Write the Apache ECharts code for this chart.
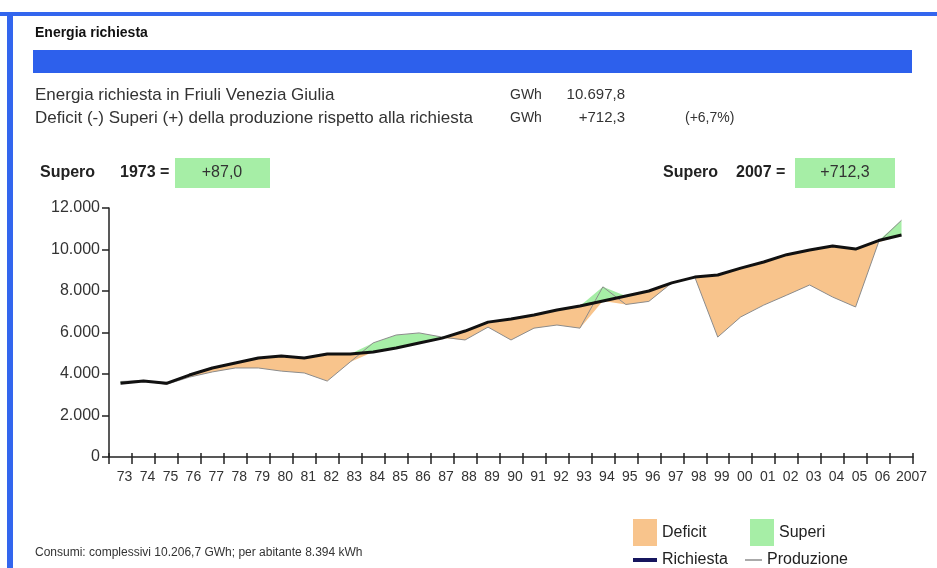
<!DOCTYPE html>
<html>
<head>
<meta charset="utf-8">
<script src="https://cdn.jsdelivr.net/npm/echarts@6/dist/echarts.min.js"></script>
<style>
    html, body { margin: 0; padding: 0; background: #fff; }
    #main { width: 937px; height: 568px; }
</style>
</head>
<body>
<div id="main"></div>
<script>
    // anni (asse x)
    var anni = ['73','74','75','76','77','78','79','80','81','82','83','84','85','86','87','88','89','90',
                '91','92','93','94','95','96','97','98','99','00','01','02','03','04','05','06','2007'];
    // GWh richiesti
    var richiesta = [3550,3660,3550,3950,4290,4530,4770,4870,4770,4960,4960,5060,5250,5490,5730,6070,6500,6650,
                     6840,7080,7280,7520,7760,8000,8390,8670,8770,9100,9400,9750,9980,10170,10020,10430,10698];
    // GWh prodotti
    var produzione = [3640,3680,3500,3850,4100,4290,4290,4140,4050,3660,4580,5500,5880,5980,5780,5640,6260,5640,
                      6210,6360,6210,8200,7350,7500,8390,8670,5780,6750,7320,7800,8290,7710,7230,10350,11410];
    var yTicks = [0, 2000, 4000, 6000, 8000, 10000, 12000];

    var FONT = "'Liberation Sans', Arial, sans-serif";
    var ORANGE = '#f8c48c', GREEN = '#a6eea6';

    var base = [], deficit = [], superi = [];
    for (var i = 0; i < anni.length; i++) {
        base.push(Math.min(richiesta[i], produzione[i]));
        deficit.push(Math.max(richiesta[i] - produzione[i], 0));
        superi.push(Math.max(produzione[i] - richiesta[i], 0));
    }

    function txt(x, y, s, opt) {
        opt = opt || {};
        return {
            type: 'text', x: x, y: y, z: 10,
            style: {
                text: s, fill: opt.color || '#222', font: (opt.weight || 'normal') + ' ' + (opt.size || 16) + 'px ' + FONT,
                align: opt.align || 'left', verticalAlign: 'middle'
            }
        };
    }
    function box(x, y, w, h, color) {
        return { type: 'rect', shape: { x: x, y: y, width: w, height: h }, style: { fill: color }, z: 5 };
    }

    var chart = echarts.init(document.getElementById('main'));
    var option = {
        backgroundColor: '#fff',
        animation: false,
        grid: { left: 109, right: 24, top: 208, bottom: 111 },
        xAxis: [{
            type: 'category', data: anni, boundaryGap: true,
            axisLine: { lineStyle: { color: '#222', width: 1.5 } },
            axisTick: { show: true, interval: 0, length: 7, lineStyle: { color: '#222', width: 1.5 } },
            axisLabel: {
                interval: 0, margin: 13, color: '#333', fontSize: 14, fontFamily: FONT,
                padding: [0, 0, 0, 8],
                formatter: function (v) { return v === '2007' ? '{l|' + v + '}' : v; },
                rich: { l: { fontSize: 14, fontFamily: FONT, color: '#333', padding: [0, 0, 0, 12] } }
            }
        }, {
            type: 'category', data: anni, boundaryGap: true, position: 'bottom',
            axisLine: { show: false },
            axisTick: { show: true, inside: true, interval: 0, length: 4, lineStyle: { color: '#222', width: 1.5 } },
            axisLabel: { show: false }
        }],
        yAxis: {
            type: 'value', min: yTicks[0], max: yTicks[yTicks.length - 1], interval: 2000,
            splitLine: { show: false },
            axisLine: { show: true, lineStyle: { color: '#222', width: 1.5 } },
            axisTick: { show: true, length: 7, lineStyle: { color: '#222', width: 1.5 } },
            axisLabel: {
                margin: 9, color: '#333', fontSize: 16, fontFamily: FONT,
                formatter: function (v) { return String(v).replace(/\B(?=(\d{3})+(?!\d))/g, '.'); }
            }
        },
        legend: [
            { left: 628, top: 514, itemWidth: 24, itemHeight: 27, icon: 'rect', selectedMode: false,
              textStyle: { fontSize: 16, fontFamily: FONT, color: '#222', padding: [0, 0, 14, 0] },
              data: [{ name: 'Deficit', itemStyle: { color: ORANGE } }] },
            { left: 745, top: 514, itemWidth: 24, itemHeight: 27, icon: 'rect', selectedMode: false,
              textStyle: { fontSize: 16, fontFamily: FONT, color: '#222', padding: [0, 0, 14, 0] },
              data: [{ name: 'Superi', itemStyle: { color: GREEN } }] },
            { left: 628, top: 547, itemWidth: 24, itemHeight: 4, icon: 'rect', selectedMode: false,
              textStyle: { fontSize: 16, fontFamily: FONT, color: '#222' },
              data: [{ name: 'Richiesta', itemStyle: { color: '#16165e' } }] },
            { left: 740, top: 547, itemWidth: 17, itemHeight: 1, icon: 'rect', selectedMode: false,
              textStyle: { fontSize: 16, fontFamily: FONT, color: '#222' },
              data: [{ name: 'Produzione', itemStyle: { color: '#555' } }] }
        ],
        graphic: [
            // cornice blu
            { type: 'rect', shape: { x: 0, y: 12, width: 937, height: 4 }, style: { fill: '#3366ee' } },
            { type: 'rect', shape: { x: 7, y: 12, width: 6, height: 560 }, style: { fill: '#3366ee' } },
            box(33, 50, 879, 23, '#2d60ec'),
            txt(35, 33, 'Energia richiesta', { size: 14, color: '#111', weight: 'bold' }),
            txt(35, 95, 'Energia richiesta in Friuli Venezia Giulia', { size: 17, color: '#333' }),
            txt(510, 95, 'GWh', { size: 14, color: '#333' }),
            txt(625, 95, '10.697,8', { size: 15, color: '#333', align: 'right' }),
            txt(35, 118, 'Deficit (-) Superi (+) della produzione rispetto alla richiesta', { size: 17, color: '#333' }),
            txt(510, 118, 'GWh', { size: 14, color: '#333' }),
            txt(625, 118, '+712,3', { size: 15, color: '#333', align: 'right' }),
            txt(685, 118, '(+6,7%)', { size: 14, color: '#333' }),
            txt(40, 173, 'Supero', { weight: 'bold', color: '#222' }),
            txt(120, 173, '1973 =', { weight: 'bold', color: '#222' }),
            box(175, 158, 95, 30, GREEN),
            txt(222, 173, '+87,0', { color: '#333', align: 'center' }),
            txt(663, 173, 'Supero', { weight: 'bold', color: '#222' }),
            txt(736, 173, '2007 =', { weight: 'bold', color: '#222' }),
            box(795, 158, 100, 30, GREEN),
            txt(845, 173, '+712,3', { color: '#333', align: 'center' }),
            txt(35, 553, 'Consumi: complessivi 10.206,7 GWh; per abitante 8.394 kWh', { size: 12, color: '#333' })
        ],
        series: [
            { name: 'base', type: 'line', stack: 'e', data: base, showSymbol: false, silent: true,
              lineStyle: { width: 0, opacity: 0 }, areaStyle: { opacity: 0 } },
            { name: 'Deficit', type: 'line', stack: 'e', data: deficit, showSymbol: false, color: ORANGE,
              lineStyle: { width: 0, opacity: 0 }, areaStyle: { color: ORANGE, opacity: 1 } },
            { name: 'Superi', type: 'line', stack: 'e', data: superi, showSymbol: false, color: GREEN,
              lineStyle: { width: 0, opacity: 0 }, areaStyle: { color: GREEN, opacity: 1 } },
            { name: 'Produzione', type: 'line', data: produzione, showSymbol: false, color: '#8c8c8c',
              lineStyle: { width: 1, color: '#8c8c8c' }, z: 3 },
            { name: 'Richiesta', type: 'line', data: richiesta, showSymbol: false, color: '#111',
              lineStyle: { width: 3, color: '#111' }, z: 4 }
        ]
    };
    chart.setOption(option);
</script>
</body>
</html>
